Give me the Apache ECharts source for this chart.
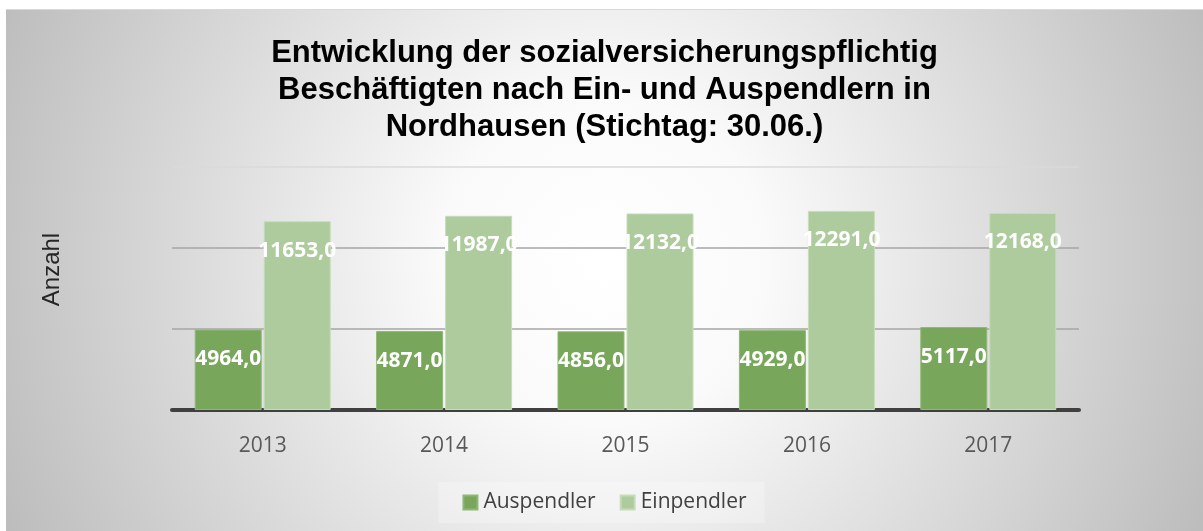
<!DOCTYPE html>
<html><head><meta charset="utf-8">
<script src="https://cdn.jsdelivr.net/npm/echarts@6/dist/echarts.min.js"></script>
<style>
html,body{margin:0;padding:0;background:#fff;width:1203px;height:531px;overflow:hidden}
#c{position:absolute;left:6px;top:9px;width:1197px;height:522px;border-top:1px solid #d9d9d9;box-sizing:border-box}
</style></head><body>
<div id="c"></div>
<script>
const categories = ['2013','2014','2015','2016','2017'];
const auspendler = [4964, 4871, 4856, 4929, 5117];
const einpendler = [11653, 11987, 12132, 12291, 12168];
const titleText = 'Entwicklung der sozialversicherungspflichtig\nBeschäftigten nach Ein- und Auspendlern in\nNordhausen (Stichtag: 30.06.)';

const chart = echarts.init(document.getElementById('c'));
const fmt = p => p.value.toFixed(1).replace('.', ',');
const labelStyle = {show:true, position:'insideTop', distance:19, color:'#fff', fontFamily:'Open Sans', fontWeight:'bold', fontSize:21, formatter:fmt};
chart.setOption({
  backgroundColor:{type:'radial', x:0.5, y:0.48, r:1.25, colorStops:[{offset:0,color:'#ffffff'},{offset:0.25,color:'#fafafa'},{offset:1,color:'#bdbdbd'}]},
  title:{text:titleText, left:'center', top:20, textStyle:{fontFamily:'Liberation Sans', fontWeight:'bold', fontSize:31, lineHeight:37, color:'#000'}},
  legend:{bottom:8, left:'center', itemWidth:14, itemHeight:14, itemGap:24, icon:'rect', backgroundColor:'rgba(255,255,255,0.25)', padding:[10,18,10,24],
    textStyle:{fontFamily:'Open Sans', fontSize:21, color:'#404040', padding:[0,0,0,1]}},
  grid:{left:166, right:124, top:157, bottom:121},
  xAxis:{type:'category', data:categories, axisTick:{show:false}, axisLine:{lineStyle:{color:'#404040', width:4}},
    axisLabel:{fontFamily:'Open Sans', fontSize:21, color:'#595959', margin:26}},
  yAxis:{type:'value', min:0, max:15000, interval:5000, axisLabel:{show:false}, axisLine:{show:false}, axisTick:{show:false},
    splitLine:{lineStyle:{color:['#a6a6a6','#a6a6a6','#a6a6a6','#dadada'], width:1.5}},
    name:'Anzahl', nameLocation:'middle', nameRotate:90, nameGap:108, nameTextStyle:{fontFamily:'Liberation Sans', fontSize:24, color:'#262626', padding:[0,0,0,38]}},
  series:[
    {name:'Auspendler', type:'bar', data:auspendler, barWidth:67, barGap:'3%', itemStyle:{color:'#78a65a', borderColor:'#8fb775', borderWidth:1}, label:labelStyle},
    {name:'Einpendler', type:'bar', data:einpendler, barWidth:67, itemStyle:{color:'#adcb9c', borderColor:'#c6dcb8', borderWidth:1}, label:labelStyle}
  ]
});
</script></body></html>
